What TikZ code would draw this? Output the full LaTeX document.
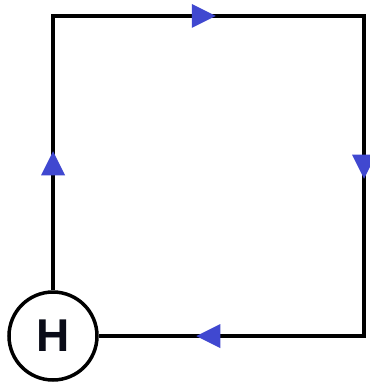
\documentclass[tikz,border=0pt]{standalone}
\usepackage{fontspec}
\setmainfont{Liberation Sans}
\usetikzlibrary{decorations.markings}
\definecolor{arrowblue}{RGB}{64,72,208}
\definecolor{htext}{RGB}{10,12,24}
\newcommand\mybluetri{\fill[arrowblue] (-24,-12) -- (0,0) -- (-24,12) -- cycle;}
\tikzset{
  loopline/.style={line width=4.2pt, line join=miter},
  hnode/.style={circle, draw, line width=3.5pt, minimum size=88pt, inner sep=0pt, text=htext, font=\bfseries\fontsize{46}{46}\selectfont},
}
\begin{document}
\begin{tikzpicture}[x=1pt,y=-1pt]
\useasboundingbox (0,0) rectangle (369,387);
\node[hnode] (H) at (53,336) {H};
\coordinate (tl) at (53,16);
\coordinate (tr) at (364,16);
\coordinate (br) at (364,336);
\draw[loopline,
  postaction={decorate, decoration={markings,
    mark=at position 139pt with {\mybluetri},
    mark=at position 437pt with {\mybluetri},
    mark=at position 748pt with {\mybluetri},
    mark=at position 1073pt with {\mybluetri}}}]
  (H) -- (tl) -- (tr) -- (br) -- (H);
\end{tikzpicture}
\end{document}
